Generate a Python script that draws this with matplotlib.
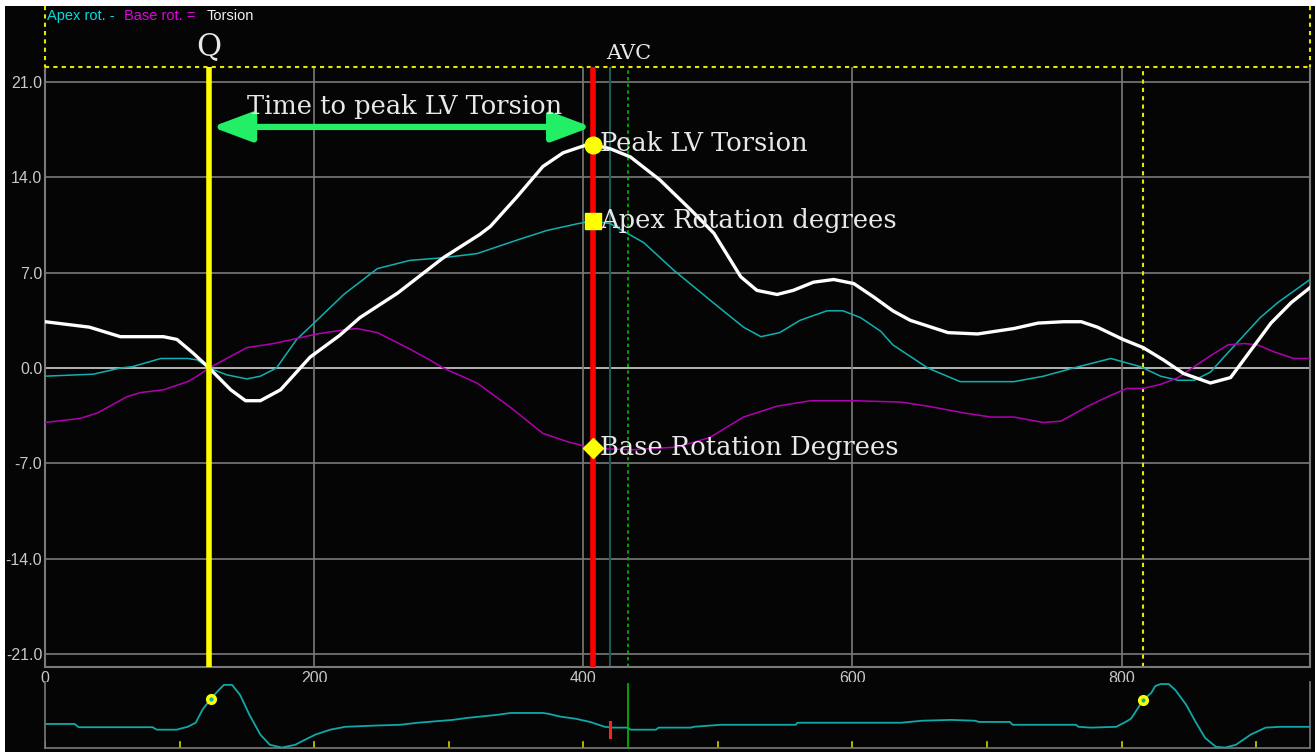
import numpy as np
import matplotlib
matplotlib.use("Agg")
import matplotlib.pyplot as plt
from matplotlib.lines import Line2D

# time (ms) and rotation values (degrees)
torsion_t = [0, 33, 56, 88, 98, 110, 122, 138, 149, 160, 175, 197, 219, 234, 262,
             296, 323, 331, 351, 370, 385, 403, 407, 420, 435, 457, 480, 497, 517,
             529, 544, 556, 571, 586, 601, 616, 630, 643, 671, 693, 720, 738, 757,
             770, 782, 801, 816, 831, 846, 866, 881, 896, 911, 926, 940]
torsion_v = [3.4, 3.0, 2.3, 2.3, 2.1, 1.1, 0.0, -1.6, -2.4, -2.4, -1.6, 0.8, 2.4, 3.7, 5.5,
             8.1, 9.8, 10.4, 12.6, 14.8, 15.8, 16.4, 16.4, 16.1, 15.5, 13.8, 11.6, 9.9, 6.7,
             5.7, 5.4, 5.7, 6.3, 6.5, 6.2, 5.2, 4.2, 3.5, 2.6, 2.5, 2.9, 3.3, 3.4,
             3.4, 3.0, 2.1, 1.5, 0.6, -0.4, -1.1, -0.7, 1.3, 3.3, 4.8, 5.9]

apex_t = [0, 36, 56, 65, 86, 106, 113, 122, 135, 150, 160, 172, 187, 202, 222, 247,
          271, 296, 321, 351, 373, 396, 407, 420, 445, 467, 494, 519, 532, 546, 561,
          581, 593, 606, 621, 630, 656, 680, 720, 742, 764, 792, 814, 829, 842, 854,
          866, 876, 903, 916, 940]
apex_v = [-0.6, -0.45, 0.0, 0.1, 0.7, 0.7, 0.6, 0.0, -0.5, -0.8, -0.6, 0.0, 2.1, 3.5, 5.4, 7.3,
          7.9, 8.1, 8.4, 9.4, 10.1, 10.6, 10.8, 10.6, 9.2, 7.2, 5.0, 3.0, 2.3, 2.6, 3.5,
          4.2, 4.2, 3.7, 2.7, 1.7, 0.0, -1.0, -1.0, -0.6, 0.0, 0.7, 0.1, -0.6, -0.9, -0.9,
          -0.3, 0.8, 3.7, 4.8, 6.5]

base_t = [0, 26, 39, 61, 71, 88, 106, 113, 122, 135, 150, 170, 184, 202, 222, 232,
          247, 269, 284, 296, 321, 346, 370, 388, 407, 437, 470, 494, 519, 544, 569,
          601, 636, 656, 683, 703, 720, 742, 755, 775, 792, 804, 816, 829, 842, 851,
          866, 879, 891, 901, 913, 928, 940]
base_v = [-4.0, -3.7, -3.3, -2.1, -1.8, -1.6, -1.0, -0.6, 0.0, 0.7, 1.5, 1.8, 2.1, 2.5, 2.8, 2.9,
          2.6, 1.5, 0.7, 0.0, -1.1, -2.9, -4.8, -5.4, -5.9, -6.0, -5.8, -5.1, -3.6, -2.8, -2.4,
          -2.4, -2.5, -2.8, -3.3, -3.6, -3.6, -4.0, -3.9, -2.8, -2.0, -1.5, -1.5, -1.2, -0.7, -0.1,
          0.9, 1.7, 1.8, 1.7, 1.2, 0.7, 0.7]

ecg_t = [0, 22, 25, 80, 83, 98, 100, 106, 112, 117, 123, 129, 133, 139, 145, 152, 160,
         167, 176, 186, 193, 201, 212, 223, 245, 264, 277, 303, 314, 335, 346, 370, 374,
         383, 394, 405, 416, 422, 433, 435, 454, 456, 480, 482, 502, 558, 559, 636, 652,
         673, 691, 694, 717, 719, 766, 768, 777, 796, 803, 807, 812, 816, 822, 825, 829,
         835, 840, 848, 855, 862, 870, 877, 885, 896, 907, 918, 940]
ecg_v = [0.02, 0.02, -0.06, -0.06, -0.12, -0.12, -0.10, -0.05, 0.05, 0.37, 0.63, 0.85, 0.98,
         0.98, 0.73, 0.24, -0.24, -0.49, -0.56, -0.49, -0.37, -0.24, -0.12, -0.05, -0.02, 0.0,
         0.05, 0.12, 0.17, 0.24, 0.29, 0.29, 0.27, 0.20, 0.15, 0.07, -0.05, -0.07, -0.07, -0.12,
         -0.12, -0.07, -0.07, -0.05, 0.0, 0.0, 0.05, 0.05, 0.10, 0.12, 0.10, 0.07, 0.07, 0.0, 0.0,
         -0.05, -0.07, -0.05, 0.07, 0.15, 0.40, 0.61, 0.78, 0.95, 1.0, 1.0, 0.85, 0.49, 0.07,
         -0.32, -0.54, -0.56, -0.49, -0.24, -0.07, -0.05, -0.05]

q_time = 122
avc_time = 407
peak_torsion = 16.4
peak_apex = 10.8
peak_base = -5.9
teal_time = 420
green_time = 433
next_q_time = 816
y_ticks = [-21.0, -14.0, -7.0, 0.0, 7.0, 14.0, 21.0]
x_ticks = [0, 200, 400, 600, 800]

W, H = 1315, 755
BG = "#050505"
GRID = "#7a7a7a"
TXT = "#e8e8e8"
LAB = "#c8c8c8"
SERIF = ["DejaVu Serif"]
SANS = ["Liberation Sans", "DejaVu Sans"]


def pix(x0, y0, x1, y1):
    return [x0 / W, 1 - y1 / H, (x1 - x0) / W, (y1 - y0) / H]


fig = plt.figure(figsize=(W / 100, H / 100), dpi=100, facecolor="white")
bg = fig.add_axes(pix(5, 6, W, 752))
bg.set_facecolor(BG)
bg.set_xticks([])
bg.set_yticks([])
for s in bg.spines.values():
    s.set_visible(False)

ax = fig.add_axes(pix(45, 67, 1310, 667))
ax.set_facecolor(BG)
ax.set_xlim(0, 940)
ax.set_ylim(-21.95, 22.1)
for y in y_ticks:
    ax.axhline(y, color="#d0d0d0" if y == 0 else GRID, lw=1.2, zorder=1)
for x in x_ticks[1:]:
    ax.axvline(x, color=GRID, lw=1.2, zorder=1)
ax.set_yticks(y_ticks)
ax.set_yticklabels([f"{v:.1f}" for v in y_ticks], fontfamily=SANS, fontsize=11.5, color=LAB)
ax.set_xticks(x_ticks)
ax.set_xticklabels([str(v) for v in x_ticks], fontfamily=SANS, fontsize=11.5, color=LAB)
ax.tick_params(length=0, pad=2)
ax.tick_params(axis="x", pad=3)
for name in ["left", "bottom", "right"]:
    ax.spines[name].set_color(GRID)
    ax.spines[name].set_linewidth(1.5)
ax.spines["top"].set_visible(False)

# top dotted boundary and marker lines
ax.plot([0, 1], [1, 1], transform=ax.transAxes, color="#e6e600", lw=1.5, ls=(0, (2, 2)),
        clip_on=False, zorder=5)
ax.axvline(next_q_time, color="#e6e600", lw=1.5, ls=(0, (2, 2)), zorder=2)
ax.axvline(teal_time, color="#1d5a5a", lw=1.5, zorder=2)
ax.axvline(green_time, color="#00c000", lw=1.2, ls=(0, (2, 2)), zorder=2)
fig.add_artist(Line2D([45 / W, 45 / W], [1 - 6 / H, 1 - 67 / H], color="#e6e600", lw=1.5,
                      ls=(0, (2, 2))))
fig.add_artist(Line2D([1310 / W, 1310 / W], [1 - 6 / H, 1 - 67 / H], color="#e6e600", lw=1.5,
                      ls=(0, (2, 2))))

ax.plot(apex_t, apex_v, color="#10b0b0", lw=1.1, zorder=3)
ax.plot(base_t, base_v, color="#b000b0", lw=1.1, zorder=3)
ax.plot(torsion_t, torsion_v, color="white", lw=2.4, zorder=4)

ax.axvline(q_time, color="#ffff00", lw=4, zorder=6)
ax.axvline(avc_time, color="#ff0000", lw=4, zorder=6)

ax.plot([avc_time], [peak_torsion], "o", color="#ffff00", ms=12, zorder=7)
ax.plot([avc_time], [peak_apex], "s", color="#ffff00", ms=12, zorder=7)
ax.plot([avc_time], [peak_base], "D", color="#ffff00", ms=10, zorder=7)

ax.annotate("", xy=(406, 17.7), xytext=(124, 17.7),
            arrowprops=dict(arrowstyle="<|-|>,head_length=1.2,head_width=0.45",
                            color="#22ee66", lw=4.5, mutation_scale=20,
                            shrinkA=0, shrinkB=0), zorder=6)
lab_kw = dict(fontfamily=SERIF, fontsize=18.5, color=TXT, va="center", zorder=8)
ax.text(267, 19.2, "Time to peak LV Torsion", ha="center", **lab_kw)
ax.text(412.5, 16.5, "Peak LV Torsion", ha="left", **lab_kw)
ax.text(412.5, 10.8, "Apex Rotation degrees", ha="left", **lab_kw)
ax.text(412.5, -5.8, "Base Rotation Degrees", ha="left", **lab_kw)
ax.text(q_time, 23.6, "Q", fontfamily=SERIF, fontsize=22, color=TXT,
        ha="center", va="center", clip_on=False)
ax.text(green_time + 1, 23.1, "AVC", fontfamily=SERIF, fontsize=15, color=TXT,
        ha="center", va="center", clip_on=False)

# legend line at the very top
fig.text(47 / W, 1 - 16 / H, "Apex rot. -", fontfamily=SANS, fontsize=10.5,
         color="#00dddd", va="center")
fig.text(124 / W, 1 - 16 / H, "Base rot. =", fontfamily=SANS, fontsize=10.5,
         color="#e000e0", va="center")
fig.text(207 / W, 1 - 16 / H, "Torsion", fontfamily=SANS, fontsize=10.5,
         color="#f0f0f0", va="center")

# ECG strip
ex = fig.add_axes(pix(45, 682, 1310, 748))
ex.set_facecolor(BG)
ex.set_xlim(0, 940)
ex.set_ylim(-0.57, 1.05)
ex.set_xticks([])
ex.set_yticks([])
ex.spines["top"].set_visible(False)
for name in ["left", "bottom", "right"]:
    ex.spines[name].set_color(GRID)
    ex.spines[name].set_linewidth(1.2)
for x in range(0, 941, 100):
    ex.plot([x, x], [-0.57, -0.42], color="#d0d000", lw=1.2)
ex.plot(ecg_t, ecg_v, color="#10a8a8", lw=1.3, zorder=3)
ex.plot([q_time + 1, next_q_time], [0.63, 0.61], "o", ms=7, mfc="#ffff00",
        mec="#ffff00", zorder=4)
ex.plot([q_time + 1, next_q_time], [0.63, 0.61], "o", ms=2, color="#10a8a8", zorder=5)
ex.plot([teal_time, teal_time], [-0.29, 0.07], color="#ff2020", lw=2.2, zorder=4)
ex.plot([green_time, green_time], [-0.57, 1.0], color="#00c000", lw=1.2, zorder=4,
        clip_on=False)

fig.savefig("out.png", dpi=100, facecolor="white")
